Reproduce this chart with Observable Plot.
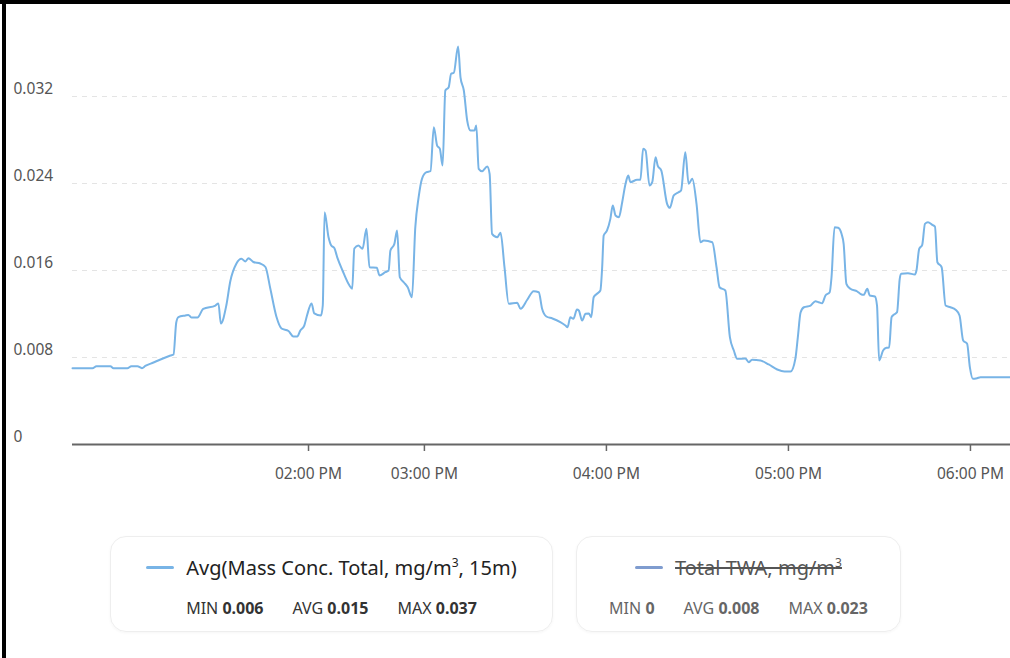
<!DOCTYPE html>
<html>
<head>
<meta charset="utf-8">
<script src="https://cdn.jsdelivr.net/npm/d3@7"></script>
<script src="https://cdn.jsdelivr.net/npm/@observablehq/plot@0.6"></script>
<style>
  html, body { margin: 0; padding: 0; background: #fff; }
  body { width: 1010px; height: 658px; position: relative; overflow: hidden; font-family: "Noto Sans", "Open Sans", sans-serif; }
  #chart { position: absolute; left: 0; top: 0; }
  .bar-top { position: absolute; left: 0; top: 0; width: 1010px; height: 4px; background: #000; }
  .bar-left { position: absolute; left: 2px; top: 0; width: 4px; height: 658px; background: #000; }
  .legend { position: absolute; top: 536px; height: 96px; box-sizing: border-box; border: 1px solid #eee; border-radius: 16px; box-shadow: 0 1px 3px rgba(0,0,0,0.04); display: flex; flex-direction: column; align-items: center; }
  .legend .title { margin-top: 15px; height: 30px; display: flex; align-items: center; font-size: 20px; color: #222; }
  .legend .sw { width: 28px; height: 3px; border-radius: 2px; margin-right: 12px; }
  .legend .stats { margin-top: 15px; font-size: 16px; color: #333; display: flex; gap: 29px; }
  .legend .stats b { font-weight: 700; }
  .legend sup { font-size: 12px; }
  .off .title span.t { text-decoration: line-through; color: #555; }
  .off .stats { color: #666; }
</style>
</head>
<body>
<div id="chart"></div>
<div class="bar-top"></div>
<div class="bar-left"></div>
<div id="legend1" class="legend" style="left:110px;width:443px;"></div>
<div id="legend2" class="legend off" style="left:576px;width:325px;"></div>
<script>
// Time in minutes after 01:00 PM
const minutesAfter1PM = [
  4.0, 10.6, 11.9, 16.5, 17.5, 22.1, 23.4, 25.4, 26.9, 28.0,
  30.7, 33.0, 36.3, 37.3, 38.2, 38.9, 41.2, 42.2, 43.2, 45.2,
  47.1, 51.1, 52.1, 52.9, 54.7, 56.0, 58.0, 59.7, 61.0, 62.0,
  63.6, 65.9, 67.6, 69.2, 71.2, 72.9, 75.2, 76.8, 78.1, 79.1,
  80.4, 81.3, 82.8, 83.7, 85.9, 86.5, 87.1, 88.4, 89.3, 90.3,
  91.3, 93.0, 95.3, 96.2, 96.9, 98.2, 99.6, 100.9, 101.9, 104.3,
  105.2, 107.1, 108.2, 108.8, 110.1, 111.0, 111.9, 113.2, 114.5, 115.9,
  117.0, 118.1, 119.2, 120.7, 122.0, 123.1, 124.2, 125.1, 126.0, 126.9,
  128.0, 128.8, 129.7, 131.1, 131.9, 133.0, 134.1, 135.2, 136.5, 137.1,
  137.9, 139.0, 140.7, 141.5, 142.3, 144.0, 145.1, 146.4, 147.8, 150.6,
  151.7, 153.9, 156.0, 157.7, 158.8, 160.2, 162.2, 164.8, 166.5, 167.2,
  168.1, 169.1, 170.3, 170.9, 172.0, 173.1, 174.2, 175.0, 175.8, 176.9,
  178.0, 178.6, 179.1, 180.2, 181.3, 182.1, 183.0, 184.1, 185.2, 186.3,
  187.2, 187.9, 190.1, 191.2, 192.1, 192.9, 194.2, 195.1, 196.2, 196.9,
  198.1, 200.0, 200.9, 202.2, 203.8, 204.6, 206.0, 207.1, 208.3, 209.7,
  211.0, 212.1, 214.9, 216.3, 217.3, 219.2, 220.7, 222.0, 223.1, 225.8,
  226.9, 228.0, 230.8, 233.5, 236.3, 238.7, 240.7, 242.3, 243.1, 244.0,
  245.1, 247.3, 248.9, 250.0, 251.1, 252.2, 253.6, 254.2, 255.2, 256.4,
  257.5, 258.2, 259.1, 260.4, 262.7, 263.7, 264.8, 266.0, 266.8, 268.5,
  269.2, 269.9, 271.2, 272.3, 273.2, 274.0, 274.8, 275.8, 276.7, 277.2,
  279.4, 281.7, 282.2, 283.1, 284.1, 285.0, 286.0, 287.4, 288.3, 289.1,
  290.5, 291.8, 293.4, 295.1, 296.4, 297.6, 298.9, 299.8, 300.8, 302.2,
  303.3, 313.2
];
// Avg(Mass Conc. Total, mg/m³, 15m)
const massConc = [
  0.00702, 0.00702, 0.00720, 0.00720, 0.00702, 0.00702, 0.00720, 0.00720, 0.00702, 0.00722,
  0.00754, 0.00782, 0.00818, 0.00828, 0.01122, 0.01171, 0.01186, 0.01191, 0.01168, 0.01168,
  0.01248, 0.01278, 0.01297, 0.01113, 0.01278, 0.01499, 0.01662, 0.01708, 0.01683, 0.01713,
  0.01678, 0.01664, 0.01632, 0.01434, 0.01177, 0.01067, 0.01044, 0.00993, 0.00993, 0.01048,
  0.01094, 0.01186, 0.01297, 0.01205, 0.01186, 0.01278, 0.02136, 0.01906, 0.01830, 0.01807,
  0.01719, 0.01600, 0.01462, 0.01432, 0.01802, 0.01830, 0.01799, 0.01983, 0.01630, 0.01625,
  0.01554, 0.01584, 0.01600, 0.01784, 0.01845, 0.01968, 0.01538, 0.01492, 0.01446, 0.01354,
  0.01998, 0.02274, 0.02443, 0.02504, 0.02513, 0.02918, 0.02749, 0.02719, 0.02565, 0.03255,
  0.03285, 0.03409, 0.03418, 0.03660, 0.03377, 0.03255, 0.02979, 0.02887, 0.02887, 0.02933,
  0.02535, 0.02513, 0.02556, 0.02489, 0.01937, 0.01906, 0.01947, 0.01630, 0.01294, 0.01303,
  0.01248, 0.01331, 0.01410, 0.01400, 0.01248, 0.01177, 0.01159, 0.01125, 0.01094, 0.01079,
  0.01171, 0.01156, 0.01241, 0.01232, 0.01140, 0.01202, 0.01205, 0.01171, 0.01354, 0.01386,
  0.01416, 0.01630, 0.01922, 0.01968, 0.02075, 0.02198, 0.02106, 0.02090, 0.02228, 0.02397,
  0.02473, 0.02412, 0.02434, 0.02434, 0.02719, 0.02703, 0.02382, 0.02412, 0.02642, 0.02565,
  0.02519, 0.02213, 0.02176, 0.02290, 0.02320, 0.02336, 0.02688, 0.02397, 0.02443, 0.02213,
  0.01860, 0.01876, 0.01860, 0.01630, 0.01446, 0.01416, 0.00987, 0.00864, 0.00788, 0.00791,
  0.00757, 0.00779, 0.00772, 0.00736, 0.00690, 0.00671, 0.00671, 0.00791, 0.00987, 0.01214,
  0.01262, 0.01278, 0.01318, 0.01308, 0.01299, 0.01370, 0.01400, 0.01538, 0.01998, 0.01993,
  0.01937, 0.01845, 0.01478, 0.01432, 0.01407, 0.01386, 0.01376, 0.01432, 0.01370, 0.01361,
  0.01278, 0.00772, 0.00864, 0.00889, 0.00892, 0.01171, 0.01195, 0.01217, 0.01526, 0.01570,
  0.01575, 0.01563, 0.01600, 0.01799, 0.01836, 0.02029, 0.02044, 0.02020, 0.02004, 0.01676,
  0.01630, 0.01278, 0.01262, 0.01239, 0.01186, 0.00956, 0.00926, 0.00711, 0.00604, 0.00610,
  0.00619, 0.00619
];

const yTicks = [0, 0.008, 0.016, 0.024, 0.032];
const yTickLabels = ["0", "0.008", "0.016", "0.024", "0.032"];
const xTicks = [81.8, 120, 180, 240, 300];
const xTickLabels = ["02:00 PM", "03:00 PM", "04:00 PM", "05:00 PM", "06:00 PM"];

const seriesNames = ["Avg(Mass Conc. Total, mg/m³, 15m)", "Total TWA, mg/m³"];
const seriesColors = ["#78b4e6", "#7f9ccf"];
const statLabels = ["MIN", "AVG", "MAX"];
const series1Stats = ["0.006", "0.015", "0.037"];
const series2Stats = ["0", "0.008", "0.023"];

const data = minutesAfter1PM.map((t, i) => ({t, v: massConc[i]}));

const chart = Plot.plot({
  width: 1010,
  height: 500,
  marginLeft: 72,
  marginRight: 0,
  marginTop: 9,
  marginBottom: 56,
  style: {fontFamily: "'Noto Sans', 'Open Sans', sans-serif", fontSize: "15.5px", color: "#555", background: "transparent"},
  x: {domain: d3.extent(minutesAfter1PM)},
  y: {domain: [0, 0.04]},
  marks: [
    Plot.gridY(yTicks.slice(1), {stroke: "#e4e4e4", strokeOpacity: 1, strokeDasharray: "5,5"}),
    Plot.axisY(yTicks, {
      tickSize: 0, tickPadding: 59, textAnchor: "start", dy: -7,
      tickFormat: (d, i) => yTickLabels[i], fill: "#555", fontSize: 15.5, label: null
    }),
    Plot.ruleY([0], {stroke: "#666", strokeWidth: 2}),
    Plot.axisX(xTicks, {
      tickSize: 7, tickPadding: 16, stroke: "#666", strokeWidth: 1.5,
      tickFormat: (d, i) => xTickLabels[i], fill: "#555", fontSize: 15.5, label: null
    }),
    Plot.line(data, {x: "t", y: "v", curve: "monotone-x", stroke: seriesColors[0], strokeWidth: 2})
  ]
});
document.getElementById("chart").appendChild(chart);

function fmtName(s) {
  return s.replace("³", "<sup>3</sup>");
}
function buildLegend(id, name, color, stats) {
  const el = document.getElementById(id);
  el.innerHTML = `<div class="title"><span class="sw" style="background:${color}"></span><span class="t">${fmtName(name)}</span></div>` +
    `<div class="stats">${statLabels.map((l, i) => `<span>${l} <b>${stats[i]}</b></span>`).join("")}</div>`;
}
buildLegend("legend1", seriesNames[0], seriesColors[0], series1Stats);
buildLegend("legend2", seriesNames[1], seriesColors[1], series2Stats);
</script>
</body>
</html>
